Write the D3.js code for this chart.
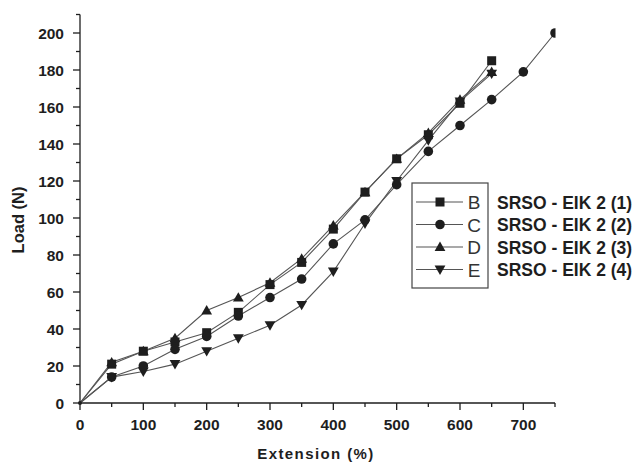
<!DOCTYPE html>
<html>
<head>
<meta charset="utf-8">
<script src="https://cdn.jsdelivr.net/npm/d3@7"></script>
<style>
  html, body { margin: 0; padding: 0; background: #fff; }
  svg { display: block; }
  text { font-family: "Liberation Sans", Arial, sans-serif; }
</style>
</head>
<body>
<svg id="chart" width="636" height="463"></svg>
<script>
// Extension (%) sampled every 50 %
const extB = [0, 50, 100, 150, 200, 250, 300, 350, 400, 450, 500, 550, 600, 650];
const extC = [0, 50, 100, 150, 200, 250, 300, 350, 400, 450, 500, 550, 600, 650, 700, 750];
const extD = [0, 50, 100, 150, 200, 250, 300, 350, 400, 450, 500, 550, 600, 650];
const extE = [0, 50, 100, 150, 200, 250, 300, 350, 400, 450, 500, 550, 600, 650];

// Load (N) for each specimen
const loadB = [0, 21, 28, 33, 38, 49, 64, 76, 94, 114, 132, 145, 162, 185];
const loadC = [0, 14, 20, 29, 36, 47, 57, 67, 86, 99, 118, 136, 150, 164, 179, 200];
const loadD = [0, 22, 28, 35, 50, 57, 65, 78, 96, 114, 132, 146, 164, 179];
const loadE = [0, 14, 17, 21, 28, 35, 42, 53, 71, 97, 120, 142, 163, 178];

const seriesKeys = ["B", "C", "D", "E"];
const seriesNames = ["SRSO - EIK 2 (1)", "SRSO - EIK 2 (2)", "SRSO - EIK 2 (3)", "SRSO - EIK 2 (4)"];
const seriesSymbols = ["square", "circle", "up", "down"];

const xTicks = [0, 100, 200, 300, 400, 500, 600, 700];
const yTicks = [0, 20, 40, 60, 80, 100, 120, 140, 160, 180, 200];

const series = [
  { x: extB, y: loadB },
  { x: extC, y: loadC },
  { x: extD, y: loadD },
  { x: extE, y: loadE }
].map((s, i) => ({
  key: seriesKeys[i], name: seriesNames[i], symbol: seriesSymbols[i],
  points: s.x.map((v, j) => [v, s.y[j]])
}));

const svg = d3.select("#chart");
const ink = "#1e1e1e";
const lineInk = "#555";

const x = d3.scaleLinear().domain([0, 750]).range([80, 555]);
const y = d3.scaleLinear().domain([0, 210]).range([403, 14.5]);

// Marker shapes
function marker(g, type, s) {
  if (type === "square") {
    g.append("rect").attr("x", -s / 2).attr("y", -s / 2).attr("width", s).attr("height", s);
  } else if (type === "circle") {
    g.append("circle").attr("r", s / 2 + 0.3);
  } else if (type === "up") {
    g.append("path").attr("d", `M0,${-s * 0.6}L${s * 0.6},${s * 0.45}L${-s * 0.6},${s * 0.45}Z`);
  } else {
    g.append("path").attr("d", `M0,${s * 0.6}L${s * 0.6},${-s * 0.45}L${-s * 0.6},${-s * 0.45}Z`);
  }
  g.attr("fill", ink);
}

// Axes
const xMinor = d3.range(0, 751, 50);
const yMinor = d3.range(0, 211, 10);

const axes = svg.append("g").attr("stroke", ink).attr("stroke-width", 1.3);
axes.append("line").attr("x1", x(0)).attr("x2", x(750)).attr("y1", y(0)).attr("y2", y(0));
axes.append("line").attr("x1", x(0)).attr("x2", x(0)).attr("y1", y(0)).attr("y2", y(210));

axes.selectAll(".xt").data(xMinor).join("line")
  .attr("x1", d => x(d)).attr("x2", d => x(d))
  .attr("y1", y(0)).attr("y2", d => y(0) + (d % 100 === 0 ? 7 : 4));
axes.selectAll(".yt").data(yMinor).join("line")
  .attr("y1", d => y(d)).attr("y2", d => y(d))
  .attr("x1", x(0)).attr("x2", d => x(0) - (d % 20 === 0 ? 7 : 4));

svg.append("g").selectAll("text").data(xTicks).join("text")
  .attr("x", d => x(d)).attr("y", 429.5)
  .attr("text-anchor", "middle")
  .attr("font-size", 15.5).attr("font-weight", "bold").attr("fill", ink)
  .text(d => d);

svg.append("g").selectAll("text").data(yTicks).join("text")
  .attr("x", 64).attr("y", d => y(d) + 5.5)
  .attr("text-anchor", "end")
  .attr("font-size", 15.5).attr("font-weight", "bold").attr("fill", ink)
  .text(d => d);

svg.append("text")
  .attr("x", 316).attr("y", 459)
  .attr("text-anchor", "middle")
  .attr("font-size", 15).attr("font-weight", "bold").attr("fill", ink)
  .attr("letter-spacing", 1.4)
  .text("Extension (%)");

svg.append("text")
  .attr("transform", "translate(24,220) rotate(-90)")
  .attr("text-anchor", "middle")
  .attr("font-size", 16.5).attr("font-weight", "bold").attr("fill", ink)
  .text("Load (N)");

// Series lines and markers, clipped at the end of the x axis
svg.append("defs").append("clipPath").attr("id", "plotClip")
  .append("rect").attr("x", 70).attr("y", 0).attr("width", x(750) - 70 + 0.5).attr("height", 420);

const line = d3.line().x(d => x(d[0])).y(d => y(d[1]));
const plot = svg.append("g").attr("clip-path", "url(#plotClip)");
series.forEach(s => {
  plot.append("path").datum(s.points)
    .attr("d", line).attr("fill", "none")
    .attr("stroke", lineInk).attr("stroke-width", 1.1);
});
series.forEach(s => {
  plot.append("g").selectAll("g").data(s.points.slice(1)).join("g")
    .attr("transform", d => `translate(${x(d[0])},${y(d[1])})`)
    .each(function () { marker(d3.select(this), s.symbol, 9); });
});
plot.append("circle").attr("cx", x(0)).attr("cy", y(0)).attr("r", 2).attr("fill", ink);

// Legend
const leg = svg.append("g");
leg.append("rect").attr("x", 412).attr("y", 183).attr("width", 76).attr("height", 105)
  .attr("fill", "#fff").attr("stroke", "#444").attr("stroke-width", 1.2);
const rowY = [202, 224.5, 247, 269.5];
series.forEach((s, i) => {
  const g = leg.append("g").attr("transform", `translate(0,${rowY[i]})`);
  g.append("line").attr("x1", 416).attr("x2", 463).attr("y1", 0).attr("y2", 0)
    .attr("stroke", lineInk).attr("stroke-width", 1.1);
  marker(g.append("g").attr("transform", "translate(440,0)"), s.symbol, 9);
  g.append("text").attr("x", 474).attr("y", 7).attr("text-anchor", "middle")
    .attr("font-size", 19).attr("fill", "#333").text(s.key);
  g.append("text").attr("x", 497).attr("y", 6.5)
    .attr("font-size", 17.5).attr("font-weight", "bold").attr("fill", ink).text(s.name);
});
</script>
</body>
</html>
